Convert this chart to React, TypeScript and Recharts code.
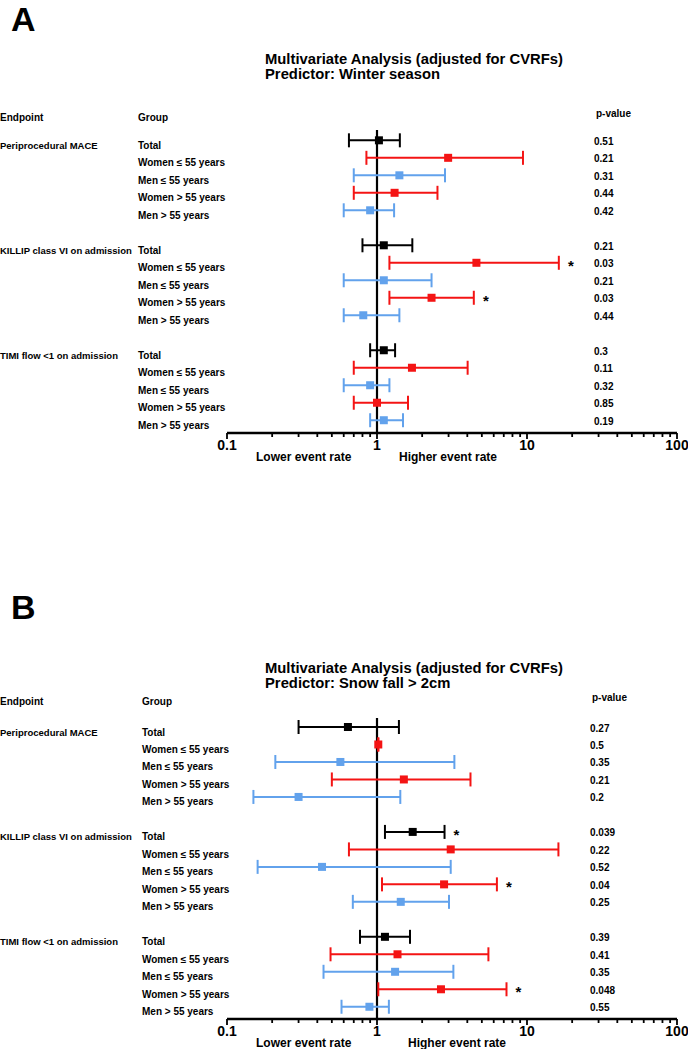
import { ScatterChart, Scatter, XAxis, YAxis, ErrorBar, ReferenceLine } from "recharts";

const groups = ["Total", "Women ≤ 55 years", "Men ≤ 55 years", "Women > 55 years", "Men > 55 years"];
const endpoints = ["Periprocedural MACE", "KILLIP class VI on admission", "TIMI flow <1 on admission"];

const majorTicks = [0.1, 1, 10, 100];
const minorTicks = [0.2, 0.3, 0.4, 0.5, 0.6, 0.7, 0.8, 0.9, 2, 3, 4, 5, 6, 7, 8, 9, 20, 30, 40, 50, 60, 70, 80, 90];

// A: winter season (order: endpoint x group)
const winterHR = [1.03, 2.98, 1.41, 1.31, 0.9, 1.11, 4.6, 1.11, 2.31, 0.81, 1.11, 1.71, 0.9, 1.0, 1.11];
const winterLow = [0.65, 0.85, 0.7, 0.7, 0.6, 0.8, 1.21, 0.6, 1.21, 0.6, 0.9, 0.7, 0.6, 0.7, 0.9];
const winterHigh = [1.42, 9.4, 2.84, 2.53, 1.3, 1.72, 16.3, 2.31, 4.42, 1.41, 1.32, 4.02, 1.21, 1.61, 1.49];
const winterP = ["0.51", "0.21", "0.31", "0.44", "0.42", "0.21", "0.03", "0.21", "0.03", "0.44", "0.3", "0.11", "0.32", "0.85", "0.19"];
const winterStars = [6, 8];

// B: snow fall > 2cm
const snowHR = [0.64, 1.02, 0.57, 1.51, 0.3, 1.73, 3.1, 0.43, 2.8, 1.44, 1.13, 1.37, 1.32, 2.67, 0.89];
const snowLow = [0.3, 1.02, 0.21, 0.5, 0.15, 1.13, 0.65, 0.16, 1.08, 0.69, 0.77, 0.49, 0.44, 1.02, 0.58];
const snowHigh = [1.4, 1.02, 3.28, 4.2, 1.43, 2.82, 16.2, 3.1, 6.3, 3.02, 1.66, 5.53, 3.23, 7.3, 1.2];
const snowP = ["0.27", "0.5", "0.35", "0.21", "0.2", "0.039", "0.22", "0.52", "0.04", "0.25", "0.39", "0.41", "0.35", "0.048", "0.55"];
const snowStars = [5, 8, 13];

const FONT = "'Liberation Sans', Arial, sans-serif";
const RED = "#f41414";
const BLUE = "#62a2ec";

type Row = {
  row: number;
  endpoint: string;
  group: string;
  kind: string;
  hr: number;
  err: number[];
  hi: number;
  p: string;
  star: boolean;
};

function buildRows(hr: number[], lo: number[], hi: number[], p: string[], stars: number[]): Row[] {
  return hr.map((v, i) => {
    const ei = Math.floor(i / 5);
    const gi = i % 5;
    return {
      row: ei * 6 + gi,
      endpoint: gi === 0 ? endpoints[ei] : "",
      group: groups[gi],
      kind: gi === 0 ? "total" : gi % 2 === 1 ? "women" : "men",
      hr: v,
      err: [v - lo[i], hi[i] - v],
      hi: hi[i],
      p: p[i],
      star: stars.includes(i)
    };
  });
}

const Square = (props: any) => {
  const { cx, cy, fill } = props;
  return <rect x={cx - 4} y={cy - 4} width={8} height={8} fill={fill} />;
};

const Star = (props: any) => {
  const { cx, cy } = props;
  return (
    <text x={cx + 12} y={cy + 8} textAnchor="middle" fontFamily={FONT} fontWeight="bold" fontSize={15} fill="#000">
      *
    </text>
  );
};

function XTick(props: any) {
  const { x, y, payload } = props;
  const major = majorTicks.includes(payload.value);
  return (
    <g>
      <line x1={x} x2={x} y1={y} y2={y + (major ? 6 : 4)} stroke="#000" strokeWidth={1.8} />
      {major && (
        <text x={x} y={y + 17} textAnchor="middle" fontFamily={FONT} fontWeight="bold" fontSize={14} fill="#000">
          {String(payload.value)}
        </text>
      )}
    </g>
  );
}

type PanelProps = {
  rows: Row[];
  top: number;
  height: number;
  domain: [number, number];
  letter: string;
  predictor: string;
  titleY: number;
  headY: number;
  groupX: number;
  pX: number;
  higherX: number;
};

function Panel({ rows, top, height, domain, letter, predictor, titleY, headY, groupX, pX, higherX }: PanelProps) {
  const byRow = new Map(rows.map((r) => [r.row, r]));
  const YTick = (props: any) => {
    const { y, payload } = props;
    const r = byRow.get(payload.value);
    if (!r) return null;
    const t = { fontFamily: FONT, fontWeight: "bold", fill: "#000" } as const;
    return (
      <g>
        {r.endpoint && (
          <text x={0} y={y + 8.5} {...t} fontSize={9.5}>
            {r.endpoint}
          </text>
        )}
        <text x={groupX} y={y + 8.5} {...t} fontSize={10}>
          {r.group}
        </text>
        <text x={pX} y={y + 4.5} {...t} fontSize={10}>
          {r.p}
        </text>
      </g>
    );
  };
  const plotBottom = height - 47;
  const head = { fontFamily: FONT, fontWeight: "bold", fill: "#000" } as const;

  return (
    <div style={{ position: "absolute", left: 0, top, width: 688, height }}>
      <ScatterChart width={688} height={height} margin={{ top: 130, right: 11, bottom: 0, left: 226 }}>
        <XAxis
          type="number"
          dataKey="hr"
          scale="log"
          domain={[0.1, 100]}
          allowDataOverflow
          ticks={[...majorTicks, ...minorTicks].sort((a, b) => a - b)}
          interval={0}
          height={47}
          tickSize={0}
          tickMargin={0}
          tickLine={false}
          axisLine={{ stroke: "#000", strokeWidth: 2.5 }}
          tick={<XTick />}
        />
        <YAxis
          type="number"
          dataKey="row"
          domain={domain}
          reversed
          allowDataOverflow
          ticks={rows.map((r) => r.row)}
          interval={0}
          width={1}
          axisLine={false}
          tickLine={false}
          tick={<YTick />}
        />
        <ReferenceLine x={1} stroke="#000" strokeWidth={2.2} />
        {[
          { kind: "total", color: "#000" },
          { kind: "women", color: RED },
          { kind: "men", color: BLUE }
        ].map((s) => (
          <Scatter
            key={s.kind}
            data={rows.filter((r) => r.kind === s.kind)}
            fill={s.color}
            shape={<Square />}
            isAnimationActive={false}
          >
            <ErrorBar dataKey="err" direction="x" width={7} stroke={s.color} strokeWidth={2} isAnimationActive={false} />
          </Scatter>
        ))}
        <Scatter
          data={rows.filter((r) => r.star).map((r) => ({ row: r.row, hr: r.hi }))}
          shape={<Star />}
          isAnimationActive={false}
        />
      </ScatterChart>
      <svg width={688} height={height} style={{ position: "absolute", left: 0, top: 0, pointerEvents: "none" }}>
        <text x={11} y={31} {...head} fontSize={34}>
          {letter}
        </text>
        <text x={265} y={titleY} {...head} fontSize={14.8}>
          Multivariate Analysis (adjusted for CVRFs)
        </text>
        <text x={265} y={titleY + 15} {...head} fontSize={14.8}>
          {predictor}
        </text>
        <text x={0} y={headY} {...head} fontSize={10}>
          Endpoint
        </text>
        <text x={groupX} y={headY} {...head} fontSize={10}>
          Group
        </text>
        <text x={pX + 2} y={headY - 4} {...head} fontSize={10}>
          p-value
        </text>
        <text x={256} y={plotBottom + 28} {...head} fontSize={12}>
          Lower event rate
        </text>
        <text x={higherX} y={plotBottom + 28} {...head} fontSize={12}>
          Higher event rate
        </text>
      </svg>
    </div>
  );
}

const winterRows = buildRows(winterHR, winterLow, winterHigh, winterP, winterStars);
const snowRows = buildRows(snowHR, snowLow, snowHigh, snowP, snowStars);

export default function App() {
  return (
    <div style={{ position: "absolute", left: 0, top: 0, width: 688, height: 1049, background: "#fff" }}>
      <Panel
        rows={winterRows}
        top={0}
        height={480}
        domain={[-0.59, 16.73]}
        letter="A"
        predictor="Predictor: Winter season"
        titleY={64}
        headY={121}
        groupX={138}
        pX={594}
        higherX={399}
      />
      <Panel
        rows={snowRows}
        top={588}
        height={478}
        domain={[-0.515, 16.7]}
        letter="B"
        predictor="Predictor: Snow fall > 2cm"
        titleY={85}
        headY={117}
        groupX={142}
        pX={590}
        higherX={408}
      />
    </div>
  );
}
